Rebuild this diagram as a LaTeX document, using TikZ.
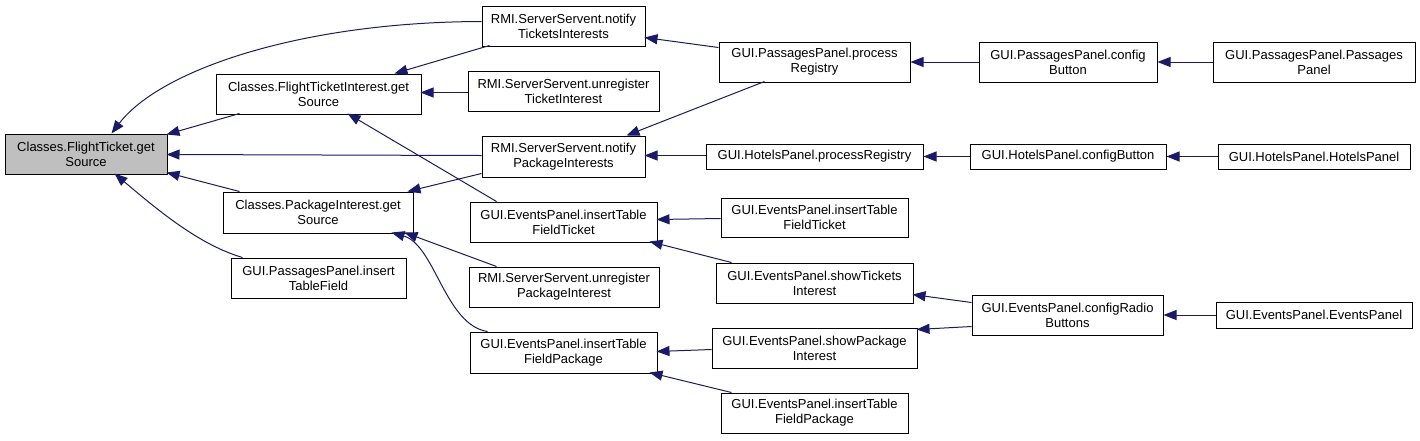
\documentclass[tikz,border=0pt]{standalone}
\usepackage{fontspec}
\setmainfont{Liberation Sans}
\usetikzlibrary{arrows.meta}
\definecolor{edgec}{HTML}{191970}
\definecolor{rootfill}{HTML}{BFBFBF}
\tikzset{
  box/.style={draw=black, line width=1pt, fill=white, inner sep=0pt, align=center,
    font=\fontsize{13}{15}\selectfont},
  rootbox/.style={box, fill=rootfill},
  edge/.style={draw=edgec, line width=1pt, {Triangle[length=13pt,width=10pt]}-}
}
\newcommand\bx[7][box]{\node[#1, minimum width={(#5-#3)*1pt}, minimum height={(#6-#4)*1pt}] (#2) at ({(#3+#5)/2},{(#4+#6)/2}) {#7};}
\begin{document}
\begin{tikzpicture}[x=1pt,y=-1pt]
\useasboundingbox (0,0) rectangle (1420,440);
% nodes
\bx[rootbox]{root}{5}{134}{167}{174}{Classes.FlightTicket.get\\Source}
\bx{fti}{216}{74}{421}{114}{Classes.FlightTicketInterest.get\\Source}
\bx{pi}{223}{192}{413}{233}{Classes.PackageInterest.get\\Source}
\bx{ptf}{231}{258}{406}{298}{GUI.PassagesPanel.insert\\TableField}
\bx{ntt}{482}{6}{645}{46}{RMI.ServerServent.notify\\TicketsInterests}
\bx{utti}{468}{71}{659}{111}{RMI.ServerServent.unregister\\TicketInterest}
\bx{npi}{482}{136}{645}{177}{RMI.ServerServent.notify\\PackageInterests}
\bx{itft}{470}{202}{657}{242}{GUI.EventsPanel.insertTable\\FieldTicket}
\bx{upi}{469}{267}{659}{307}{RMI.ServerServent.unregister\\PackageInterest}
\bx{itfp}{470}{332}{657}{373}{GUI.EventsPanel.insertTable\\FieldPackage}
\bx{ppr}{719}{42}{910}{82}{GUI.PassagesPanel.process\\Registry}
\bx{hpr}{706}{144}{923}{169}{GUI.HotelsPanel.processRegistry}
\bx{itftb}{721}{198}{908}{237}{GUI.EventsPanel.insertTable\\FieldTicket}
\bx{sti}{716}{263}{913}{303}{GUI.EventsPanel.showTickets\\Interest}
\bx{spi}{712}{328}{917}{368}{GUI.EventsPanel.showPackage\\Interest}
\bx{itfpb}{721}{393}{908}{433}{GUI.EventsPanel.insertTable\\FieldPackage}
\bx{pcb}{979}{42}{1157}{82}{GUI.PassagesPanel.config\\Button}
\bx{hcb}{970}{144}{1166}{169}{GUI.HotelsPanel.configButton}
\bx{crb}{972}{295}{1163}{335}{GUI.EventsPanel.configRadio\\Buttons}
\bx{pp}{1213}{42}{1415}{82}{GUI.PassagesPanel.Passages\\Panel}
\bx{hh}{1218}{144}{1410}{169}{GUI.HotelsPanel.HotelsPanel}
\bx{ee}{1216}{302}{1412}{328}{GUI.EventsPanel.EventsPanel}
% edges
\draw[edge] ([shift={(107,0)}]root.north west) .. controls (160,70) and (300,22) .. ([shift={(0,16)}]ntt.north west);
\draw[edge] ([shift={(162,1)}]root.north west) -- ([shift={(24,40)}]fti.north west);
\draw[edge] ([shift={(162,21)}]root.north west) -- ([shift={(0,20)}]npi.north west);
\draw[edge] ([shift={(162,39)}]root.north west) -- ([shift={(17,0)}]pi.north west);
\draw[edge] ([shift={(110,40)}]root.north west) .. controls (160,212) and (200,245) .. ([shift={(12,0)}]ptf.north west);
\draw[edge] ([shift={(179,0)}]fti.north west) -- ([shift={(8,40)}]ntt.north west);
\draw[edge] ([shift={(205,19)}]fti.north west) -- ([shift={(0,22)}]utti.north west);
\draw[edge] ([shift={(132,40)}]fti.north west) -- ([shift={(27,0)}]itft.north west);
\draw[edge] ([shift={(185,0)}]pi.north west) -- ([shift={(0,38)}]npi.north west);
\draw[edge] ([shift={(182,41)}]pi.north west) -- ([shift={(28,0)}]upi.north west);
\draw[edge] ([shift={(169,41)}]pi.north west) .. controls (435,245) and (445,325) .. ([shift={(18,0)}]itfp.north west);
\draw[edge] ([shift={(163,32)}]ntt.north west) -- ([shift={(0,6)}]ppr.north west);
\draw[edge] ([shift={(145,0)}]npi.north west) -- ([shift={(46,40)}]ppr.north west);
\draw[edge] ([shift={(163,20)}]npi.north west) -- ([shift={(0,12)}]hpr.north west);
\draw[edge] ([shift={(187,18)}]itft.north west) -- ([shift={(0,21)}]itftb.north west);
\draw[edge] ([shift={(180,40)}]itft.north west) -- ([shift={(16,0)}]sti.north west);
\draw[edge] ([shift={(187,20)}]itfp.north west) -- ([shift={(0,22)}]spi.north west);
\draw[edge] ([shift={(180,41)}]itfp.north west) -- ([shift={(11,0)}]itfpb.north west);
\draw[edge] (ppr.east) -- (pcb.west);
\draw[edge] (hpr.east) -- (hcb.west);
\draw[edge] ([shift={(197,32)}]sti.north west) -- ([shift={(0,8)}]crb.north west);
\draw[edge] ([shift={(205,2)}]spi.north west) -- ([shift={(0,32)}]crb.north west);
\draw[edge] (pcb.east) -- (pp.west);
\draw[edge] (hcb.east) -- (hh.west);
\draw[edge] (crb.east) -- (ee.west);
\end{tikzpicture}
\end{document}
